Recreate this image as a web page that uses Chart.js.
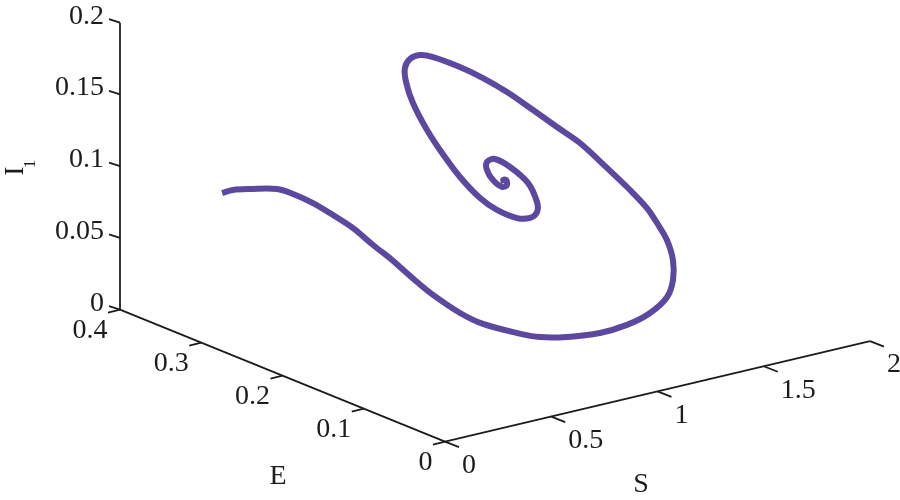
<!DOCTYPE html>
<html>
<head>
<meta charset="utf-8">
<title>S E I1 trajectory</title>
<script src="https://cdn.jsdelivr.net/npm/chart.js"></script>
<style>
  html, body { margin: 0; padding: 0; background: #fff; }
  canvas { display: block; }
</style>
</head>
<body>
<canvas id="phaseChart" width="900" height="500"></canvas>
<script>
// Trajectory
const S = [0.098,0.149,0.191,0.280,0.317,0.373,0.429,0.485,0.541,0.592,0.610,0.633,0.670,0.759,0.829,0.951,1.021,1.109,1.226,1.315,1.424,1.504,1.570,1.608,1.656,1.686,1.715,1.712,1.680,1.591,1.521,1.447,1.324,1.173,1.026,0.938,0.876,0.791,0.729,0.696,0.652,0.642,0.636,0.644,0.662,0.665,0.683,0.706,0.739,0.777,0.811,0.765,0.694,0.656,0.618,0.608,0.651,0.674,0.708,0.694,0.660];
const E = [0.30,0.30,0.29,0.28,0.27,0.26,0.25,0.24,0.23,0.22,0.215,0.20,0.19,0.18,0.17,0.16,0.15,0.14,0.13,0.12,0.12,0.12,0.13,0.14,0.16,0.18,0.20,0.22,0.24,0.25,0.26,0.27,0.27,0.26,0.25,0.26,0.26,0.25,0.24,0.23,0.21,0.19,0.17,0.15,0.13,0.11,0.09,0.08,0.08,0.09,0.11,0.12,0.12,0.12,0.11,0.10,0.10,0.10,0.11,0.11,0.10];
const I1 = [0.1009,0.1012,0.1027,0.1019,0.0994,0.0934,0.0854,0.0767,0.0652,0.0553,0.0509,0.0431,0.0351,0.0217,0.0139,0.0056,0.0026,0.0019,0.0029,0.0077,0.0122,0.0205,0.0277,0.0380,0.0457,0.0519,0.0567,0.0648,0.0767,0.0949,0.1062,0.1183,0.1352,0.1525,0.1677,0.1754,0.1790,0.1815,0.1797,0.1734,0.1649,0.1510,0.1398,0.1274,0.1167,0.1129,0.1112,0.1128,0.1157,0.1191,0.1266,0.1370,0.1451,0.1443,0.1424,0.1380,0.1317,0.1323,0.1323,0.1328,0.1341];

const sTicks = [0, 0.5, 1, 1.5, 2];
const eTicks = [0, 0.1, 0.2, 0.3, 0.4];
const iTicks = [0, 0.05, 0.1, 0.15, 0.2];

// 3D view -> plane of the chart
function project(s, e, i) {
  return {
    x: 445 + 212.5 * s - 812.5 * e,
    y: 441.7 - 50.3 * s - 330 * e - 1435 * i
  };
}

function tickSegments(ticks, toPoint, dx, dy) {
  const pts = [];
  ticks.forEach(t => {
    const p = toPoint(t);
    pts.push(p, { x: p.x + dx, y: p.y + dy }, { x: NaN, y: NaN });
  });
  return pts;
}

const axisColor = '#1c1c1c';
const axisLine = (data) => ({
  data, showLine: true, pointRadius: 0, borderColor: axisColor, borderWidth: 1.8, tension: 0, spanGaps: false
});

const curve = S.map((s, k) => project(s, E[k], I1[k]));

const axisText = {
  id: 'axisText',
  afterDraw(chart) {
    const ctx = chart.ctx;
    ctx.save();
    ctx.fillStyle = '#1c1c1c';
    ctx.font = '28px "Liberation Serif"';
    ctx.textBaseline = 'middle';

    ctx.textAlign = 'right';
    iTicks.forEach(t => {
      const p = project(0, 0.4, t);
      ctx.fillText(String(t), p.x - 16, p.y - 6.5);
    });
    eTicks.forEach(t => {
      const p = project(0, t, 0);
      ctx.fillText(String(t), p.x - 12.5, p.y + 21);
    });

    ctx.textAlign = 'left';
    sTicks.forEach(t => {
      const p = project(t, 0, 0);
      ctx.fillText(String(t), p.x + 17, p.y + 24);
    });

    ctx.textAlign = 'center';
    ctx.fillText('E', 278, 477);
    ctx.fillText('S', 641, 485);

    ctx.translate(16, 171);
    ctx.rotate(-Math.PI / 2);
    ctx.fillText('I', 0, 0);
    ctx.font = '17px "Liberation Serif"';
    ctx.fillText('1', 7, 15);
    ctx.restore();
  }
};

new Chart(document.getElementById('phaseChart').getContext('2d'), {
  type: 'scatter',
  data: {
    datasets: [
      axisLine([project(0, 0, 0), project(2, 0, 0)]),
      axisLine([project(0, 0, 0), project(0, 0.4, 0)]),
      axisLine([project(0, 0.4, 0), project(0, 0.4, 0.2)]),
      axisLine(tickSegments(sTicks, t => project(t, 0, 0), 14, 5.5)),
      axisLine(tickSegments(eTicks, t => project(0, t, 0), -12, 3)),
      axisLine(tickSegments(iTicks, t => project(0, 0.4, t), -11, -3.5)),
      {
        data: curve,
        showLine: true,
        pointRadius: 0,
        borderColor: '#5c489f',
        borderWidth: 6,
        tension: 0.35,
        borderJoinStyle: 'round'
      }
    ]
  },
  options: {
    responsive: false,
    animation: false,
    layout: { padding: 0 },
    plugins: { legend: { display: false }, tooltip: { enabled: false } },
    scales: {
      x: { type: 'linear', min: 0, max: 900, display: false },
      y: { type: 'linear', min: 0, max: 500, reverse: true, display: false }
    }
  },
  plugins: [axisText]
});
</script>
</body>
</html>
